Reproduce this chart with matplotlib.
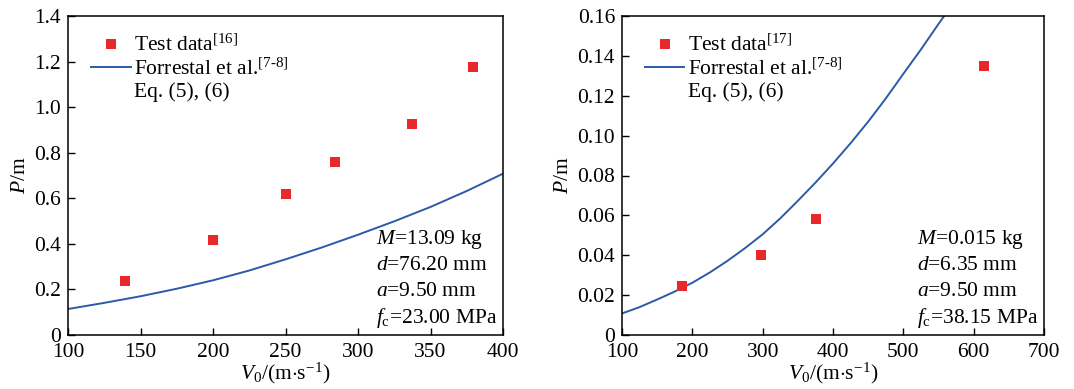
import matplotlib
matplotlib.use("Agg")
import matplotlib.pyplot as plt
from matplotlib.lines import Line2D

plt.rcParams['font.family'] = ['Liberation Serif', 'DejaVu Serif']
plt.rcParams['mathtext.fontset'] = 'custom'
plt.rcParams['mathtext.rm'] = 'Liberation Serif'
plt.rcParams['mathtext.it'] = 'Liberation Serif:italic'
plt.rcParams['mathtext.bf'] = 'Liberation Serif:bold'
plt.rcParams['axes.unicode_minus'] = True

# ---- data: left panel ----
test_v_left = [139.4, 200.2, 250.5, 284.3, 337.3, 379.3]
test_p_left = [0.237, 0.417, 0.617, 0.758, 0.927, 1.178]
model_v_left = [100, 125, 150, 175, 200, 225, 250, 275, 300, 325, 350, 375, 400]
model_p_left = [0.114, 0.141, 0.170, 0.203, 0.240, 0.283, 0.332, 0.384, 0.440,
                0.499, 0.562, 0.632, 0.708]

# ---- data: right panel ----
test_v_right = [185, 298, 376, 615]
test_p_right = [0.0245, 0.040, 0.058, 0.135]
model_v_right = [100, 125, 150, 175, 200, 225, 250, 275, 300, 325, 350, 375,
                 400, 425, 450, 475, 500, 525, 550, 560]
model_p_right = [0.0108, 0.0140, 0.0178, 0.0218, 0.0262, 0.0314, 0.0372,
                 0.0436, 0.0505, 0.0585, 0.0673, 0.0764, 0.0860, 0.0962,
                 0.1070, 0.1186, 0.1310, 0.1432, 0.1560, 0.1610]

left_xticks = [100, 150, 200, 250, 300, 350, 400]
left_yticks = [0, 0.2, 0.4, 0.6, 0.8, 1.0, 1.2, 1.4]
left_yticklabels = ['0', '0.2', '0.4', '0.6', '0.8', '1.0', '1.2', '1.4']
right_xticks = [100, 200, 300, 400, 500, 600, 700]
right_yticks = [0, 0.02, 0.04, 0.06, 0.08, 0.10, 0.12, 0.14, 0.16]
right_yticklabels = ['0', '0.02', '0.04', '0.06', '0.08', '0.10', '0.12', '0.14', '0.16']

left_ref = '16'
right_ref = '17'
left_params = ['$M$=13.09 kg', '$d$=76.20 mm', '$a$=9.50 mm', '$f_{\\rm c}$=23.00 MPa']
right_params = ['$M$=0.015 kg', '$d$=6.35 mm', '$a$=9.50 mm', '$f_{\\rm c}$=38.15 MPa']

RED = '#e8282b'
BLUE = '#2b5aa8'
FS = 15.5

fig = plt.figure(figsize=(10.74, 3.89), dpi=100)
ax1 = fig.add_axes([68/1074, 1-335/389, (503-68)/1074, (335-16)/389])
ax2 = fig.add_axes([622/1074, 1-335/389, (1044-622)/1074, (335-16)/389])


def style(ax, xlim, ylim, xt, yt, ytl):
    ax.set_xlim(*xlim)
    ax.set_ylim(*ylim)
    ax.set_xticks(xt)
    ax.set_xticklabels([str(v) for v in xt])
    ax.set_yticks(yt)
    ax.set_yticklabels(ytl)
    ax.tick_params(direction='in', length=5, width=1.0, labelsize=FS,
                   top=False, right=False)
    ax.tick_params(axis='x', pad=6)
    ax.tick_params(axis='y', pad=5)
    for s in ax.spines.values():
        s.set_linewidth(1.1)
    ax.set_xlabel('$V_0$/(m$\\cdot$s$^{-1}$)', fontsize=FS, labelpad=-1)
    ax.set_ylabel('$P$/m', fontsize=FS, labelpad=3)


def panel(ax, tv, tp, mv, mp, ref, params, tx, lx):
    ax.plot(tv, tp, 's', color=RED, markersize=6.8, markeredgewidth=0,
            zorder=3)
    ax.plot(mv, mp, '-', color=BLUE, linewidth=1.4, zorder=2)
    handles = [
        Line2D([], [], marker='s', linestyle='none', color=RED,
               markersize=6.8, markeredgewidth=0),
        Line2D([], [], color=BLUE, linewidth=1.4),
        Line2D([], [], linestyle='none'),
    ]
    labels = ['Test data$^{[%s]}$' % ref,
              'Forrestal et al.$^{[7\\text{-}8]}$',
              'Eq. (5), (6)']
    ax.legend(handles, labels, loc='upper left', frameon=False,
              fontsize=FS, handlelength=1.85, handletextpad=0.15,
              labelspacing=0.1, borderaxespad=0.3,
              bbox_to_anchor=(lx, 0.988))
    for i, t in enumerate(params):
        ax.text(tx, 0.30 - i * 0.082, t,
                transform=ax.transAxes, fontsize=FS, ha='left', va='center')


style(ax1, (100, 400), (0, 1.4), left_xticks, left_yticks, left_yticklabels)
style(ax2, (100, 700), (0, 0.16), right_xticks, right_yticks, right_yticklabels)
panel(ax1, test_v_left, test_p_left, model_v_left, model_p_left, left_ref,
      left_params, 0.709, 0.018)
panel(ax2, test_v_right, test_p_right, model_v_right, model_p_right,
      right_ref, right_params, 0.70, 0.018)

fig.savefig('out.png', dpi=100)
